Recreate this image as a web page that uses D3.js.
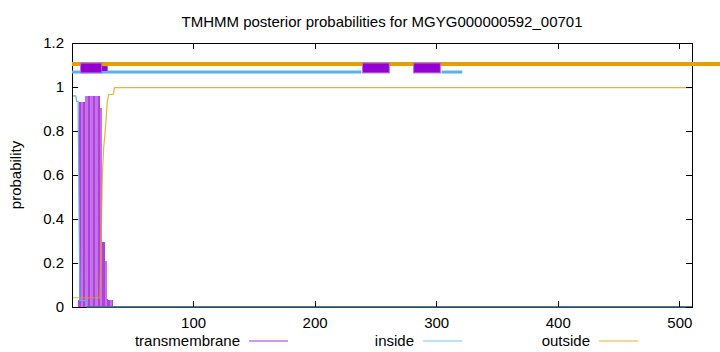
<!DOCTYPE html>
<meta charset="utf-8">
<script src="https://d3js.org/d3.v7.min.js"></script>
<style>
  body { margin: 0; background: #fff; }
  text { font-family: "Liberation Sans", Arial, sans-serif; fill: #000; }
</style>
<div id="chart"></div>
<script>

// ---- data ----
const title = "TMHMM posterior probabilities for MGYG000000592_00701";
const xTicks = [100, 200, 300, 400, 500];
const yTicks = [0, 0.2, 0.4, 0.6, 0.8, 1, 1.2];

// transmembrane posterior, residues 1..40 (rest is 0)
const tmProb = [0, 0, 0, 0, 0, 0.03, 0.93, 0.93, 0.93, 0.93,
                0.93, 0.958, 0.958, 0.958, 0.958, 0.958, 0.958, 0.958, 0.958, 0.958,
                0.958, 0.958, 0.958, 0.906, 0.906, 0.297, 0.297, 0.21, 0.21, 0.036,
                0.03, 0.03, 0.03, 0.03, 0, 0, 0, 0, 0, 0];

// inside / outside posterior as [position, probability]
const insidePts = [[0, 0.96], [3, 0.96], [4, 0.935], [5, 0.935], [6.5, 0.03], [11, 0.03], [12, 0], [510, 0]];
const outsidePts = [[0, 0.042], [23, 0.042], [24, 0.31], [25, 0.6], [26, 0.72], [27, 0.78], [28, 0.85],
                    [29, 0.93], [30, 0.965], [34, 0.967], [35, 0.997], [510, 0.997]];

// predicted topology bars along the top
const outsideSegs = [[0, 533]];
const insideSegs = [[0, 238], [304, 321]];
const tmSegs = [[7, 24.5], [239, 261], [281, 303]];
const tmSmallSegs = [[24.5, 29.3]];

const legendItems = [
  {label: "transmembrane", color: "#9400d3"},
  {label: "inside", color: "#56b4e9"},
  {label: "outside", color: "#e69f00"}
];

// ---- layout ----
const W = 720, H = 352;
const margin = {top: 43, right: 28, bottom: 45, left: 72};
const fs = "15px";

const svg = d3.select("#chart").append("svg")
  .attr("width", W).attr("height", H);

const x = d3.scaleLinear().domain([0, 510]).range([margin.left, W - margin.right]);
const y = d3.scaleLinear().domain([0, 1.2]).range([H - margin.bottom, margin.top]);

// title
svg.append("text")
  .attr("x", (x.range()[0] + x.range()[1]) / 2)
  .attr("y", 27)
  .attr("text-anchor", "middle")
  .style("font-size", fs)
  .text(title);

// tm bars
svg.append("g")
  .attr("shape-rendering", "crispEdges")
  .selectAll("rect")
  .data(tmProb.map((p, i) => ({res: i + 1, p})).filter(d => d.p > 0))
  .join("rect")
    .attr("x", d => x(d.res - 1))
    .attr("width", d => x(d.res) - x(d.res - 1))
    .attr("y", d => y(d.p))
    .attr("height", d => y(0) - y(d.p))
    .attr("fill", "#9400d3")
    .attr("fill-opacity", d => Math.floor(d.res / 2) % 2 ? 0.75 : 0.55);

const line = d3.line().x(d => x(d[0])).y(d => y(d[1]));

// tm line at zero beyond the bars
svg.append("path")
  .datum([[34, 0], [510, 0]])
  .attr("d", line)
  .attr("fill", "none")
  .attr("stroke", "#9400d3")
  .attr("stroke-width", 1);

svg.append("path")
  .datum(insidePts)
  .attr("d", line)
  .attr("fill", "none")
  .attr("stroke", "#56b4e9")
  .attr("stroke-width", 1.2);

svg.append("path")
  .datum(outsidePts)
  .attr("d", line)
  .attr("fill", "none")
  .attr("stroke", "#e69f00")
  .attr("stroke-opacity", 0.8)
  .attr("stroke-width", 1.2);

// frame
const frame = svg.append("g").attr("shape-rendering", "crispEdges");
frame.append("rect")
  .attr("x", x.range()[0]).attr("y", y.range()[1])
  .attr("width", x.range()[1] - x.range()[0])
  .attr("height", y.range()[0] - y.range()[1])
  .attr("fill", "none").attr("stroke", "#000");

// bottom axis line overdrawn by inside line at 0
svg.append("line")
  .attr("x1", x(12)).attr("x2", x(510))
  .attr("y1", y(0)).attr("y2", y(0))
  .attr("stroke", "#3d6a80").attr("stroke-width", 1.5);

// ticks
const tickG = svg.append("g").attr("shape-rendering", "crispEdges").attr("stroke", "#000");
xTicks.forEach(t => {
  tickG.append("line").attr("x1", x(t)).attr("x2", x(t)).attr("y1", y(0)).attr("y2", y(0) - 6);
  tickG.append("line").attr("x1", x(t)).attr("x2", x(t)).attr("y1", y(1.2)).attr("y2", y(1.2) + 6);
});
yTicks.forEach(t => {
  tickG.append("line").attr("x1", x(0)).attr("x2", x(0) + 6).attr("y1", y(t)).attr("y2", y(t));
  tickG.append("line").attr("x1", x(510)).attr("x2", x(510) - 6).attr("y1", y(t)).attr("y2", y(t));
});

svg.append("g").selectAll("text")
  .data(xTicks).join("text")
    .attr("x", d => x(d))
    .attr("y", y(0) + 21)
    .attr("text-anchor", "middle")
    .style("font-size", fs)
    .text(d => d);

svg.append("g").selectAll("text")
  .data(yTicks).join("text")
    .attr("x", x(0) - 8)
    .attr("y", d => y(d) + 5)
    .attr("text-anchor", "end")
    .style("font-size", fs)
    .text(d => d);

svg.append("text")
  .attr("transform", `translate(21,${(y.range()[0] + y.range()[1]) / 2}) rotate(-90)`)
  .attr("text-anchor", "middle")
  .style("font-size", fs)
  .text("probability");

// topology bars on top
svg.append("g").selectAll("line")
  .data(outsideSegs).join("line")
    .attr("x1", d => x(d[0])).attr("x2", d => x(d[1]))
    .attr("y1", y(1.105)).attr("y2", y(1.105))
    .attr("stroke", "#e69f00").attr("stroke-width", 4);

svg.append("g").selectAll("line")
  .data(insideSegs).join("line")
    .attr("x1", d => x(d[0])).attr("x2", d => x(d[1]))
    .attr("y1", y(1.068)).attr("y2", y(1.068))
    .attr("stroke", "#56b4e9").attr("stroke-width", 3);

svg.append("g").selectAll("rect")
  .data(tmSegs).join("rect")
    .attr("x", d => x(d[0])).attr("width", d => x(d[1]) - x(d[0]))
    .attr("y", y(1.109)).attr("height", y(1.064) - y(1.109))
    .attr("fill", "#9400d3").attr("stroke", "#b56ee0").attr("stroke-width", 1);

svg.append("g").selectAll("rect")
  .data(tmSmallSegs).join("rect")
    .attr("x", d => x(d[0])).attr("width", d => x(d[1]) - x(d[0]))
    .attr("y", y(1.095)).attr("height", y(1.073) - y(1.095))
    .attr("fill", "#9400d3");

// legend
const legendRight = [240, 414, 590];
const leg = svg.append("g").selectAll("g")
  .data(legendItems).join("g")
    .attr("transform", (d, i) => `translate(${legendRight[i]},341)`);
leg.append("text")
  .attr("text-anchor", "end")
  .attr("y", 5)
  .style("font-size", fs)
  .text(d => d.label);
leg.append("line")
  .attr("x1", 9).attr("x2", 48)
  .attr("stroke", d => d.color)
  .attr("stroke-opacity", 0.8)
  .attr("stroke-width", 1.2);

</script>
